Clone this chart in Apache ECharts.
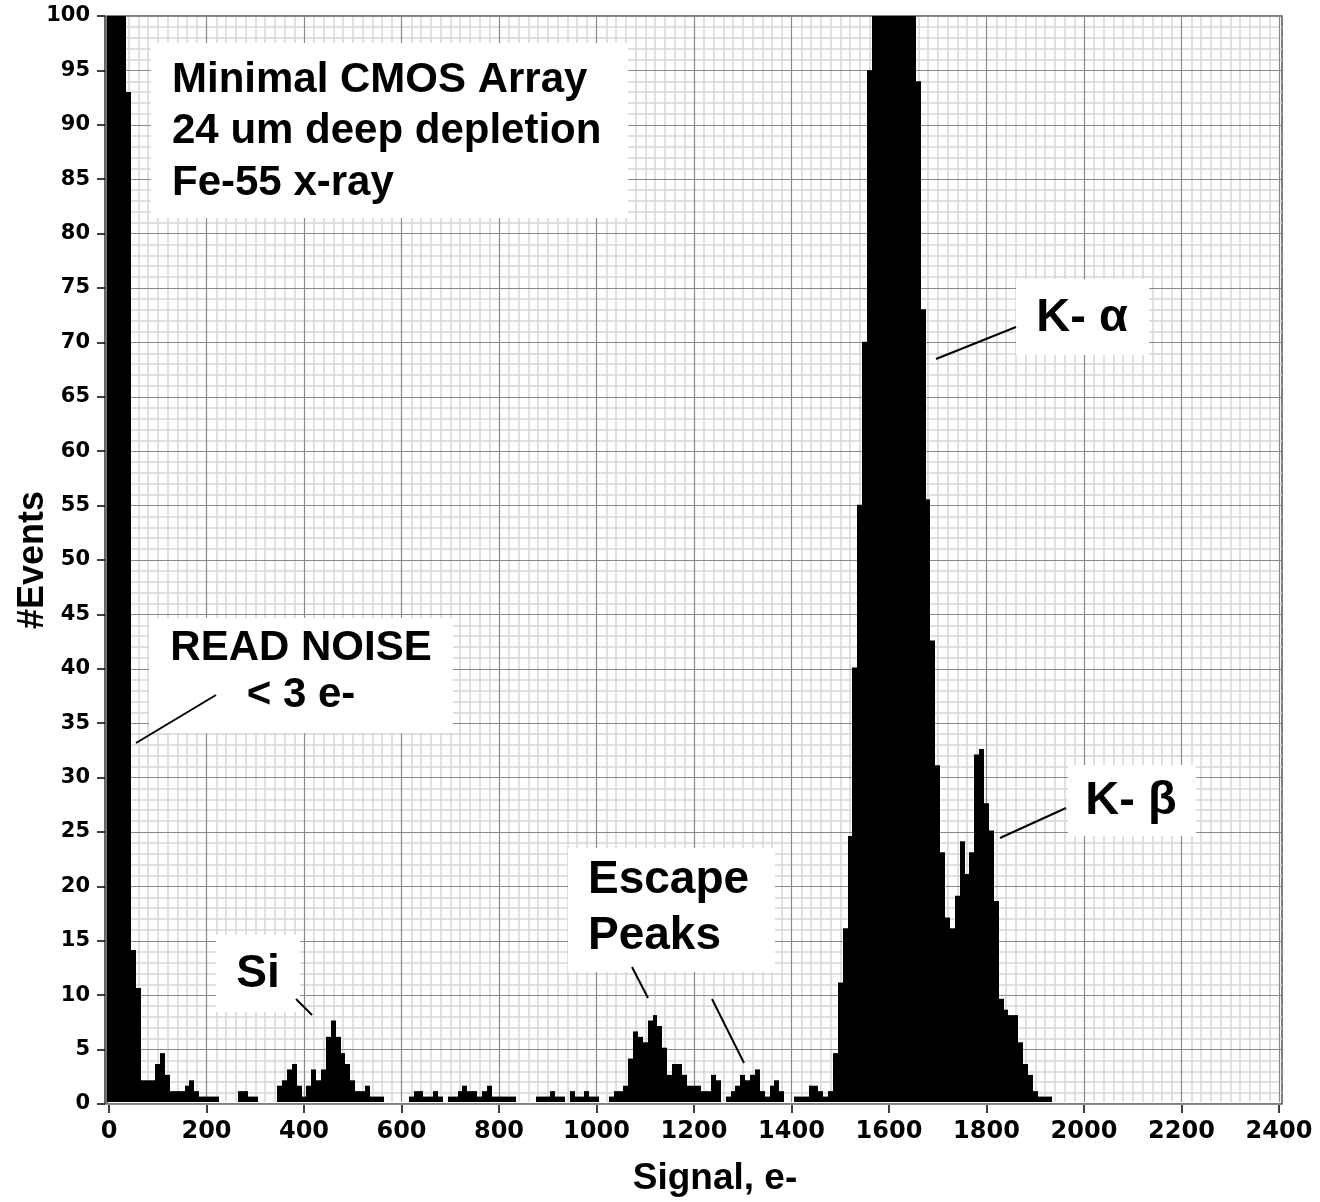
<!DOCTYPE html>
<html>
<head>
<meta charset="utf-8">
<title>Minimal CMOS Array - Fe-55 x-ray histogram</title>
<script src="https://cdn.jsdelivr.net/npm/echarts@6/dist/echarts.min.js"></script>
<style>
  html, body { margin: 0; padding: 0; background: #fff; }
  #chart { width: 1320px; height: 1202px; }
</style>
</head>
<body>
<div id="chart"></div>
<script>
// histogram bins: centre of the first bin and bin width, in e-
const binFirst = 0;
const binWidth = 10;

// #events per bin (anything over 100 runs off the top)
const countsNoiseSi = [          // 0 .. 490
  300, 420, 260, 140, 93, 14, 10.5, 2, 2, 2,
  3.5, 4.5, 2.5, 1, 1, 1, 1.5, 2, 1, 0.5,
  0.5, 0.5, 0.5, 0, 0, 0, 0, 1, 1, 0.5,
  0.5, 0, 0, 0, 0, 1.5, 2, 3, 3.5, 1.5,
  0.5, 1.5, 3, 2, 3, 6, 7.5, 6, 4.5, 3.5
];
const countsFlat = [             // 500 .. 990
  2, 1, 1, 1.5, 0.5, 0.5, 0.5, 0, 0, 0,
  0, 0, 0.5, 1, 1, 0.5, 0.5, 1, 0.5, 0,
  0.5, 0.5, 1, 1.5, 1, 1, 0.5, 1, 1.5, 0.5,
  0.5, 0.5, 0.5, 0.5, 0, 0, 0, 0, 0.5, 0.5,
  0.5, 1, 0.5, 0.5, 0, 1, 0.5, 0.5, 1, 0.5
];
const countsEscape = [           // 1000 .. 1490
  0.5, 0, 0, 0.5, 1, 1, 1.5, 4, 6.5, 6,
  5.5, 7.5, 8, 7, 5, 2.5, 3.5, 3.5, 2.5, 1.5,
  1.5, 1.5, 1, 1, 2.5, 2, 0, 0.5, 1, 1.5,
  2.5, 2, 2.5, 3, 1, 0.5, 1.5, 2, 1, 0,
  0, 0.5, 0.5, 0.5, 1.5, 1.5, 1, 0.5, 1, 4.5
];
const countsK = [                // 1500 .. 1930
  11, 16, 24.5, 40, 55, 70, 95, 125, 150, 170,
  185, 190, 180, 165, 140, 110, 94, 73, 55.5, 42.5,
  31, 23, 17, 16, 19, 24, 21, 23, 32, 32.5,
  27.5, 25, 18.5, 9.5, 8.5, 8, 8, 5.5, 3.5, 2.5,
  1, 0.5, 0.5, 0.5
];

const xTicks = [0, 200, 400, 600, 800, 1000, 1200, 1400, 1600, 1800, 2000, 2200, 2400];
const yTicks = [0, 5, 10, 15, 20, 25, 30, 35, 40, 45, 50, 55, 60, 65, 70, 75, 80, 85, 90, 95, 100];

const xMin = xTicks[0], xMax = xTicks[xTicks.length - 1];
const yMin = yTicks[0], yMax = yTicks[yTicks.length - 1];
const xStep = xTicks[1] - xTicks[0];
const yStep = yTicks[1] - yTicks[0];

const counts = countsNoiseSi.concat(countsFlat, countsEscape, countsK);
const binData = counts.map((v, i) => [binFirst + i * binWidth, v]);

const minorColor = '#d6d6d6';
const majorColor = '#8a8a8a';
const tickFont = 'DejaVu Sans';
const textFont = 'Liberation Sans';

function hiddenParts() {
  return {
    axisLine: { show: false },
    axisTick: { show: false },
    axisLabel: { show: false },
    splitLine: { show: false }
  };
}

// white label box with bold text lines
function noteBox(x, y, w, h) {
  return { type: 'rect', z: 20, shape: { x: x, y: y, width: w, height: h }, style: { fill: '#fff' } };
}
function noteText(text, x, y, size, align) {
  return {
    type: 'text', z: 21,
    style: {
      text: text, x: x, y: y,
      font: 'bold ' + size + 'px "' + textFont + '"',
      fill: '#000', textAlign: align || 'center', textVerticalAlign: 'middle'
    }
  };
}
function leader(x1, y1, x2, y2) {
  return { type: 'line', z: 21, shape: { x1: x1, y1: y1, x2: x2, y2: y2 }, style: { stroke: '#000', lineWidth: 2 } };
}

const chart = echarts.init(document.getElementById('chart'), null, { renderer: 'canvas' });

chart.setOption({
  backgroundColor: '#fff',
  animation: false,
  grid: [
    { left: 109, top: 16, width: 1170, height: 1088 },
    { left: 107, top: 16, width: 1175, height: 1088, show: true,
      borderColor: '#555', borderWidth: 1.5, backgroundColor: 'transparent' }
  ],
  xAxis: [
    Object.assign({ gridIndex: 0, type: 'value', min: xMin, max: xMax, interval: xStep, z: 1,
      minorTick: { show: false, splitNumber: 10 },
      minorSplitLine: { show: true, lineStyle: { color: minorColor, width: 1.5 } } }, hiddenParts()),
    Object.assign({ gridIndex: 0, type: 'value', min: xMin, max: xMax, interval: xStep, z: 3 }, hiddenParts(),
      { splitLine: { show: true, lineStyle: { color: majorColor, width: 1.2 } } }),
    { gridIndex: 0, type: 'value', min: xMin, max: xMax, interval: xStep, position: 'bottom', offset: 3, z: 4,
      axisLine: { show: false, onZero: false },
      axisTick: { show: true, length: 8, lineStyle: { color: '#000', width: 1.5 } },
      splitLine: { show: false },
      axisLabel: { margin: 15, color: '#000', fontFamily: tickFont, fontWeight: 'bold', fontSize: 24,
        formatter: v => String(v) },
      name: 'Signal, e-', nameLocation: 'middle', nameGap: 55,
      nameTextStyle: { color: '#000', fontFamily: textFont, fontWeight: 'bold', fontSize: 37, padding: [0, 0, 0, 42] } },
    Object.assign({ gridIndex: 1, type: 'value', min: 0, max: 1, show: false }, hiddenParts())
  ],
  yAxis: [
    Object.assign({ gridIndex: 0, type: 'value', min: yMin, max: yMax, interval: yStep, show: false }, hiddenParts()),
    Object.assign({ gridIndex: 1, type: 'value', min: yMin, max: yMax, interval: yStep, z: 1,
      minorTick: { show: false, splitNumber: 5 },
      minorSplitLine: { show: true, lineStyle: { color: minorColor, width: 1.5 } } }, hiddenParts()),
    Object.assign({ gridIndex: 1, type: 'value', min: yMin, max: yMax, interval: yStep, z: 3 }, hiddenParts(),
      { splitLine: { show: true, lineStyle: { color: majorColor, width: 1.2 } } }),
    { gridIndex: 1, type: 'value', min: yMin, max: yMax, interval: yStep, position: 'left', offset: 2, z: 4,
      axisLine: { show: true, onZero: false, lineStyle: { color: '#333', width: 1.5 } },
      axisTick: { show: true, length: 8, lineStyle: { color: '#000', width: 1.5 } },
      splitLine: { show: false },
      axisLabel: { margin: 15, color: '#000', fontFamily: tickFont, fontWeight: 'bold', fontSize: 21 },
      name: '#Events', nameLocation: 'middle', nameGap: 54, nameRotate: 90, nameMoveOverlap: false,
      nameTextStyle: { color: '#000', fontFamily: textFont, fontWeight: 'bold', fontSize: 36 } }
  ],
  series: [{
    type: 'custom',
    name: 'events',
    xAxisIndex: 0,
    yAxisIndex: 0,
    z: 10,
    data: binData,
    encode: { x: 0, y: 1 },
    renderItem: function (params, api) {
      const c = api.value(0);
      const v = Math.min(api.value(1), yMax);
      if (!(v > 0)) return null;
      const top = api.coord([c - binWidth / 2, v]);
      const bot = api.coord([c + binWidth / 2, 0]);
      const x0 = Math.round(top[0]);
      const x1 = Math.round(bot[0]);
      return {
        type: 'rect',
        shape: { x: x0, y: top[1], width: x1 - x0, height: bot[1] - top[1] },
        style: { fill: '#000' }
      };
    }
  }],
  graphic: [
    noteBox(151, 43, 477, 175),
    noteText('Minimal CMOS Array', 172, 80, 42, 'left'),
    noteText('24 um deep depletion', 172, 131.5, 42, 'left'),
    noteText('Fe-55 x-ray', 172, 183, 42, 'left'),

    noteBox(149, 618, 304, 115),
    noteText('READ NOISE', 301, 648, 42),
    noteText('< 3 e-', 301, 695, 42),
    leader(216, 695, 136, 743),

    noteBox(1016, 279, 133, 76),
    noteText('K- α', 1082, 318, 47),
    leader(1016, 327, 936, 359),

    noteBox(1068, 765, 128, 71),
    noteText('K- β', 1131, 801, 47),
    leader(1066, 808, 1000, 838),

    noteBox(568, 848, 207, 124),
    noteText('Escape', 588, 880, 46, 'left'),
    noteText('Peaks', 588, 936, 46, 'left'),
    leader(632, 967, 648, 998),
    leader(712, 999, 744, 1063),

    noteBox(216, 935, 84, 77),
    noteText('Si', 258, 974, 46),
    leader(296, 999, 312, 1015)
  ]
});
</script>
</body>
</html>
